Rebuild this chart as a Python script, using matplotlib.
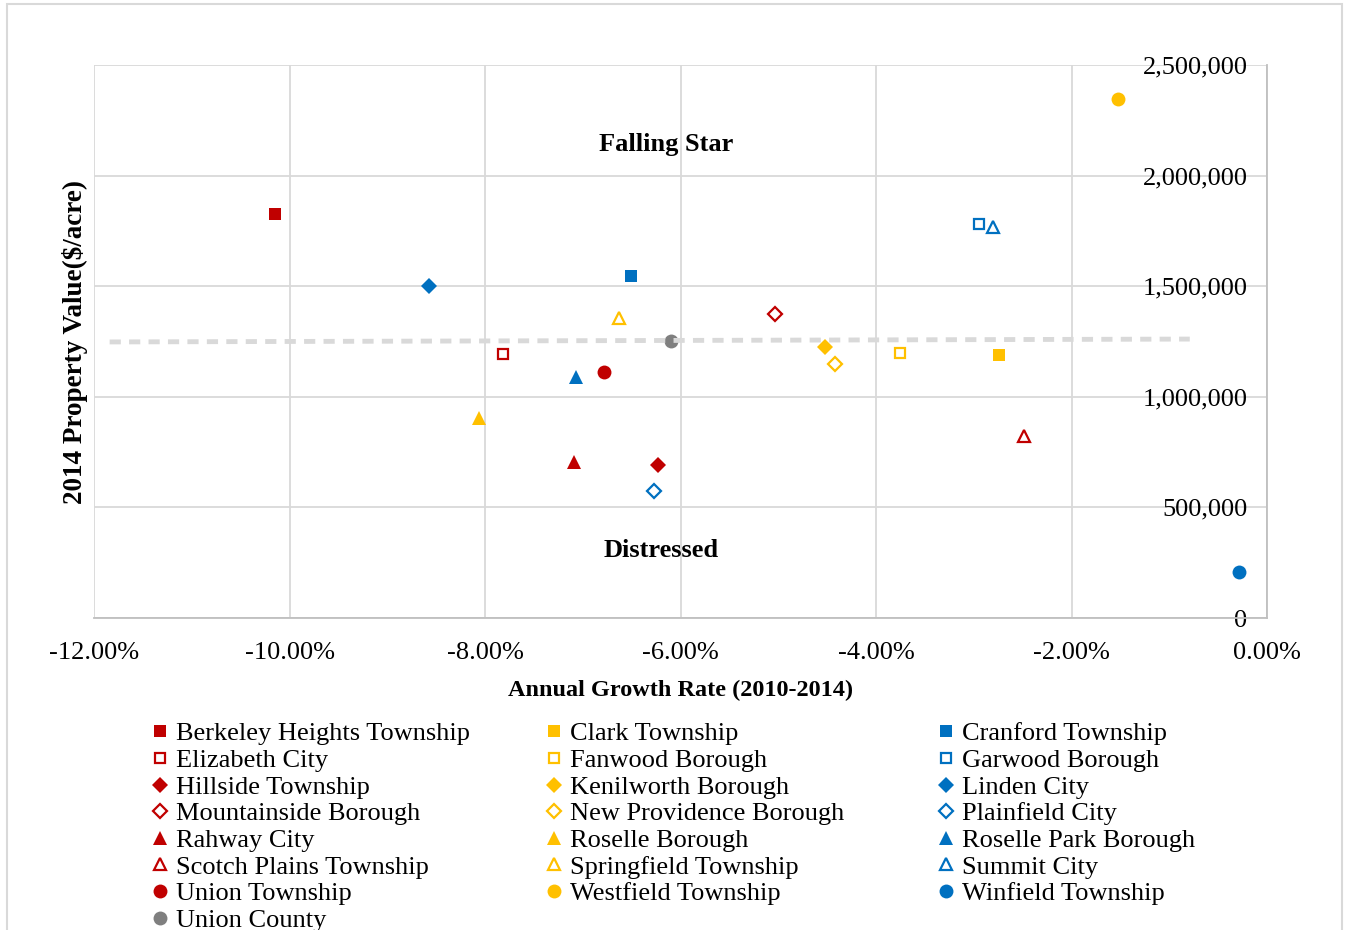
import matplotlib.pyplot as plt
from matplotlib.lines import Line2D
from matplotlib.patches import Rectangle
from matplotlib.ticker import FuncFormatter

plt.rcParams["font.family"] = ["Liberation Serif", "DejaVu Serif"]

# Data: annual growth rate (%) and 2014 property value ($/acre)
names = [
    "Berkeley Heights Township", "Elizabeth City", "Hillside Township",
    "Mountainside Borough", "Rahway City", "Scotch Plains Township",
    "Union Township", "Union County",
    "Clark Township", "Fanwood Borough", "Kenilworth Borough",
    "New Providence Borough", "Roselle Borough", "Springfield Township",
    "Westfield Township",
    "Cranford Township", "Garwood Borough", "Linden City", "Plainfield City",
    "Roselle Park Borough", "Summit City", "Winfield Township",
]
growth = [
    -10.15, -7.82, -6.23, -5.03, -7.09, -2.49, -6.78, -6.10,
    -2.74, -3.75, -4.52, -4.42, -8.06, -6.63, -1.52,
    -6.51, -2.95, -8.57, -6.27, -7.07, -2.80, -0.29,
]
value = [
    1826000, 1193000, 692000, 1374000, 705000, 823000, 1112000, 1252000,
    1189000, 1198000, 1225000, 1148000, 904000, 1356000, 2346000,
    1546000, 1781000, 1501000, 574000, 1090000, 1768000, 208000,
]

# county average reference line
avg_x = [-11.84, -0.79]
avg_y = [1248000, 1261000]

red, orange, blue, gray = "#C00000", "#FFC000", "#0070C0", "#7F7F7F"
styles = [("s", True), ("s", False), ("D", True), ("D", False),
          ("^", True), ("^", False), ("o", True)]
colors = [red] * 7 + [gray] + [orange] * 7 + [blue] * 7
markers = [m for m, f in styles] + ["o"] + [m for m, f in styles] * 2
filled = [f for m, f in styles] + [True] + [f for m, f in styles] * 2

fig = plt.figure(figsize=(13.47, 9.30), dpi=100)
fig.patches.append(Rectangle((7 / 1347, -0.1), 1335 / 1347, 1 - 4 / 930 + 0.1,
                             transform=fig.transFigure, fill=False,
                             edgecolor="#D9D9D9", linewidth=1.5))
ax = fig.add_axes([94 / 1347, 1 - 618 / 930, 1173 / 1347, 553 / 930])

handles = []
for i in range(len(names)):
    size = 9 if markers[i] == "s" else (8.5 if markers[i] == "D" else 10)
    kw = dict(marker=markers[i], markersize=size, linestyle="none", color=colors[i])
    if filled[i]:
        kw.update(markerfacecolor=colors[i], markeredgewidth=0)
    else:
        kw.update(markerfacecolor="white", markeredgecolor=colors[i], markeredgewidth=1.6)
        kw["markersize"] = size - 1.5
    ax.plot(growth[i], value[i], zorder=3, **kw)
    handles.append(Line2D([], [], **kw))

ax.plot(avg_x, avg_y, color="#D9D9D9", linewidth=3.5, dashes=(2.3, 1.7), zorder=4)

ax.set_xlim(-12, 0)
ax.set_ylim(0, 2500000)
ax.set_xticks([-12, -10, -8, -6, -4, -2, 0])
ax.set_yticks([0, 500000, 1000000, 1500000, 2000000, 2500000])
ax.xaxis.set_major_formatter(FuncFormatter(lambda v, p: f"{v:.2f}%"))
ax.yaxis.set_major_formatter(FuncFormatter(lambda v, p: f"{v:,.0f}"))
ax.grid(True, color="#D9D9D9", linewidth=1.3)
ax.set_axisbelow(True)
for s in ["left", "top"]:
    ax.spines[s].set_visible(False)
for s in ["right", "bottom"]:
    ax.spines[s].set_color("#BFBFBF")
    ax.spines[s].set_linewidth(1.3)

ax.yaxis.tick_right()
ax.tick_params(axis="both", length=0, labelsize=19)
ax.tick_params(axis="x", pad=17.5)
ax.tick_params(axis="y", pad=-14)
for t in ax.get_yticklabels():
    t.set_horizontalalignment("right")

ax.set_xlabel("Annual Growth Rate (2010-2014)", fontsize=17.5, fontweight="bold", labelpad=11)
fig.text(75 / 1347, 1 - 342 / 930, "2014 Property Value($/acre)", rotation=90,
         fontsize=19.5, fontweight="bold", ha="center", va="center")

ax.text(-6.15, 2140000, "Falling Star", fontsize=19, fontweight="bold", ha="center", va="center")
ax.text(-6.2, 305000, "Distressed", fontsize=19, fontweight="bold", ha="center", va="center")

groups = [(0, 8, 152), (8, 15, 546), (15, 22, 938)]
for a, b, left in groups:
    fig.legend(handles[a:b], names[a:b], loc="upper left",
               bbox_to_anchor=(left / 1347, 1 - 722 / 930), frameon=False,
               fontsize=19, borderpad=0, borderaxespad=0, handlelength=0.6,
               handletextpad=0.3, labelspacing=0.12, markerscale=1.0)

fig.savefig("out.png", dpi=100)
